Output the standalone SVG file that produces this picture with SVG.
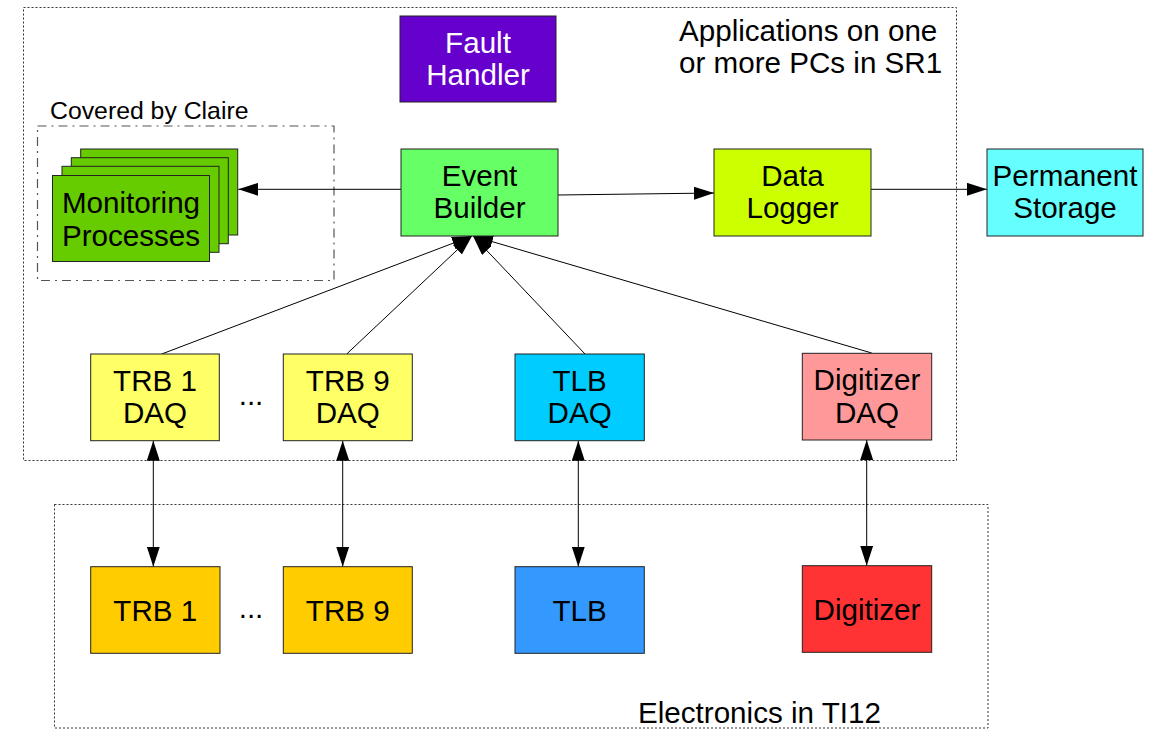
<svg xmlns="http://www.w3.org/2000/svg" width="1169" height="747" viewBox="0 0 1169 747">
<style>
.box{stroke:#222;stroke-width:1}
.t{font-family:"Liberation Sans",Arial,sans-serif;font-size:29.6px;fill:#000;text-anchor:middle}
.w{fill:#fff}
.frame{fill:none;stroke:#333;stroke-width:1;stroke-dasharray:2,2}
.dd{fill:none;stroke:#555;stroke-width:1.2;stroke-dasharray:9,5,2,5}
.c{fill:none;stroke:#000;stroke-width:1}
</style>
<defs>
<marker id="ah" viewBox="0 0 20 13" refX="20" refY="6.5" markerWidth="20" markerHeight="13" markerUnits="userSpaceOnUse" orient="auto-start-reverse">
<path d="M0,0 L20,6.5 L0,13 z" fill="#000"/>
</marker>
</defs>
<rect width="1169" height="747" fill="#fff"/>
<g id="frames">
<rect class="frame" x="23.5" y="7.5" width="933" height="453"/>
<rect class="frame" x="54.5" y="504.5" width="933.5" height="223.5"/>
<rect class="dd" x="37.5" y="126" width="296.5" height="154.5"/>
<text class="t" x="679" y="40.5" style="text-anchor:start">Applications on one</text>
<text class="t" x="679" y="72.5" style="text-anchor:start">or more PCs in SR1</text>
<text class="t" x="638" y="723" style="text-anchor:start">Electronics in TI12</text>
<text class="t" x="50" y="119" style="text-anchor:start;font-size:24.8px">Covered by Claire</text>
<text class="t" x="251" y="405">...</text>
<text class="t" x="251" y="618">...</text>
</g>
<g id="connectors">
<line class="c" x1="401" y1="189.3" x2="238.3" y2="189.3" marker-end="url(#ah)"/>
<line class="c" x1="558" y1="195" x2="714" y2="193" marker-end="url(#ah)"/>
<line class="c" x1="871" y1="189.3" x2="987" y2="189.3" marker-end="url(#ah)"/>
<line class="c" x1="161.7" y1="354" x2="472" y2="236" marker-end="url(#ah)"/>
<line class="c" x1="346.7" y1="354" x2="472" y2="236" marker-end="url(#ah)"/>
<line class="c" x1="585" y1="354" x2="473" y2="236" marker-end="url(#ah)"/>
<line class="c" x1="871.7" y1="353" x2="473" y2="236" marker-end="url(#ah)"/>
<line class="c" x1="153.3" y1="440.7" x2="153.3" y2="566.7" marker-start="url(#ah)" marker-end="url(#ah)"/>
<line class="c" x1="342.7" y1="440.7" x2="342.7" y2="566.7" marker-start="url(#ah)" marker-end="url(#ah)"/>
<line class="c" x1="578.3" y1="440.7" x2="578.3" y2="566.7" marker-start="url(#ah)" marker-end="url(#ah)"/>
<line class="c" x1="866.7" y1="440" x2="866.7" y2="565.7" marker-start="url(#ah)" marker-end="url(#ah)"/>
</g>
<g id="fault-handler">
<rect class="box" x="400" y="16" width="156" height="86" fill="#6600CC"/>
<text class="t w" x="478" y="52.5">Fault</text>
<text class="t w" x="478" y="84.5">Handler</text>
</g>
<g id="monitoring-processes">
<rect class="box" x="80.7" y="149" width="157" height="86" fill="#66CC00"/>
<rect class="box" x="71.3" y="157.7" width="157" height="86" fill="#66CC00"/>
<rect class="box" x="62" y="166.3" width="157" height="86" fill="#66CC00"/>
<rect class="box" x="52.5" y="175.5" width="157" height="86" fill="#66CC00"/>
<text class="t" x="131" y="212.7">Monitoring</text>
<text class="t" x="131" y="245.5">Processes</text>
</g>
<g id="event-builder">
<rect class="box" x="401" y="149" width="157" height="87" fill="#66FF66"/>
<text class="t" x="479.5" y="186">Event</text>
<text class="t" x="479.5" y="218">Builder</text>
</g>
<g id="data-logger">
<rect class="box" x="714" y="149" width="157" height="87" fill="#CCFF00"/>
<text class="t" x="792.5" y="186">Data</text>
<text class="t" x="792.5" y="218">Logger</text>
</g>
<g id="permanent-storage">
<rect class="box" x="987" y="149" width="156" height="87" fill="#66FFFF"/>
<text class="t" x="1065" y="186">Permanent</text>
<text class="t" x="1065" y="218">Storage</text>
</g>
<g id="trb1-daq">
<rect class="box" x="90.7" y="354" width="128.6" height="86.7" fill="#FFFF66"/>
<text class="t" x="155" y="390.7">TRB 1</text>
<text class="t" x="155" y="423.3">DAQ</text>
</g>
<g id="trb9-daq">
<rect class="box" x="283.3" y="354" width="129" height="86.7" fill="#FFFF66"/>
<text class="t" x="347.8" y="390.7">TRB 9</text>
<text class="t" x="347.8" y="423.3">DAQ</text>
</g>
<g id="tlb-daq">
<rect class="box" x="515" y="354" width="129.3" height="86.7" fill="#00CCFF"/>
<text class="t" x="579.6" y="390.7">TLB</text>
<text class="t" x="579.6" y="423.3">DAQ</text>
</g>
<g id="digitizer-daq">
<rect class="box" x="802.3" y="353.3" width="129.4" height="86.7" fill="#FF9999"/>
<text class="t" x="867" y="390">Digitizer</text>
<text class="t" x="867" y="422.6">DAQ</text>
</g>
<g id="trb1">
<rect class="box" x="90.7" y="566.7" width="129.3" height="86.6" fill="#FFCC00"/>
<text class="t" x="155.3" y="620.7">TRB 1</text>
</g>
<g id="trb9">
<rect class="box" x="283.3" y="566.7" width="129" height="86.6" fill="#FFCC00"/>
<text class="t" x="347.8" y="620.7">TRB 9</text>
</g>
<g id="tlb">
<rect class="box" x="515" y="566.7" width="129.3" height="86.6" fill="#3399FF"/>
<text class="t" x="579.6" y="620.7">TLB</text>
</g>
<g id="digitizer">
<rect class="box" x="802.3" y="565.7" width="129.4" height="86.6" fill="#FF3333"/>
<text class="t" x="867" y="619.7">Digitizer</text>
</g>
</svg>
